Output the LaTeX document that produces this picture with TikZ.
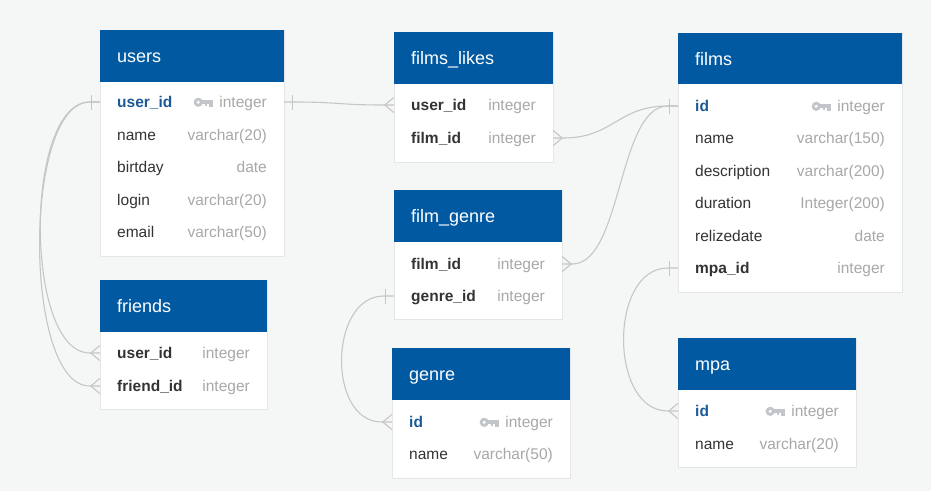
\documentclass[tikz,border=0pt]{standalone}
\usepackage{fontspec}
\setmainfont{Liberation Sans}
\usetikzlibrary{calc}
\definecolor{bg}{HTML}{F5F6F6}
\definecolor{hdr}{HTML}{0059A1}
\definecolor{pkc}{HTML}{1B5A97}
\definecolor{fld}{HTML}{333333}
\definecolor{typ}{HTML}{A8A8A8}
\definecolor{keyc}{HTML}{C2C5CA}
\definecolor{lnc}{HTML}{C6C6C6}
\definecolor{bord}{HTML}{E4E6E8}
\tikzset{
  bodybox/.style={fill=white, draw=bord, line width=0.5pt, inner sep=0, anchor=north west},
  hdrbox/.style={fill=hdr, draw=none, inner sep=0, anchor=north west},
  hdrtxt/.style={anchor=base west, inner sep=0, text=white, font=\fontsize{18}{18}\selectfont},
  rowbox/.style={draw=none, inner sep=0, minimum height=32pt},
  basetxt/.style={anchor=base west, inner sep=0, font=\fontsize{15.5}{16}\selectfont},
  fldtxt/.style={basetxt, text=fld},
  fktxt/.style={basetxt, text=fld, font=\fontsize{15.5}{16}\selectfont\bfseries},
  pktxt/.style={basetxt, text=pkc, font=\fontsize{15.5}{16}\selectfont\bfseries},
  typtxt/.style={basetxt, anchor=base east, text=typ},
  rel/.style={draw=lnc, line width=1.1pt},
  pkkey/.pic={
    \fill[keyc] (-21pt,0pt) circle [radius=4.6pt];
    \fill[white] (-21pt,0pt) circle [radius=1.7pt];
    \fill[keyc] (-18pt,-1.9pt) rectangle (-6pt,1.9pt);
    \fill[keyc] (-10pt,-1.9pt) rectangle (-6.5pt,-4.3pt);
    \fill[keyc] (-14.5pt,-1.9pt) rectangle (-12pt,-3.8pt);
  }
}
% table: id, x, top, width, height, title
\newcommand\ertab[6]{%
  \node[bodybox, minimum width=#4pt, minimum height=#5pt] (#1) at (#2,#3) {};
  \node[hdrbox, minimum width=#4pt, minimum height=51.5pt] (#1-h) at (#2,#3) {};
  \node[hdrtxt] (#1-t) at ({#2+17},{#3+32.5}) {#6};
}
% row: id, x, width, ycenter, style, field, type
\newcommand\errow[7]{%
  \node[rowbox, minimum width=#3pt] (#1) at ({#2+#3/2},#4) {};
  \node[#5] (#1-f) at ({#2+17},{#4+5.6}) {#6};
  \node[typtxt] (#1-y) at ({#2+#3-17},{#4+5.6}) {#7};
}
\newcommand\erkey[1]{\pic at ([yshift=5.3pt]#1-y.base west) {pkkey};}
% crow's foot: row node, side (west/east), direction sign (-1 for west, 1 for east)
\newcommand\crow[3]{%
  \draw[rel] ([xshift=#3*9pt]#1.#2) -- ([yshift=7.5pt]#1.#2);
  \draw[rel] ([xshift=#3*9pt]#1.#2) -- ([yshift=-7.5pt]#1.#2);
}
\newcommand\onebar[3]{%
  \draw[rel] ([xshift=#3*8pt,yshift=7.5pt]#1.#2) -- ([xshift=#3*8pt,yshift=-7.5pt]#1.#2);
}
\begin{document}
\begin{tikzpicture}[x=1pt,y=-1pt]
\useasboundingbox (0,0) rectangle (931,491);
\fill[bg] (0,0) rectangle (931,491);

% users
\ertab{users}{100}{30}{184}{226}{users}
\errow{users-uid}{100}{184}{102}{pktxt}{user\_id}{integer}
\erkey{users-uid}
\errow{users-name}{100}{184}{134.5}{fldtxt}{name}{varchar(20)}
\errow{users-bd}{100}{184}{167}{fldtxt}{birtday}{date}
\errow{users-login}{100}{184}{199.5}{fldtxt}{login}{varchar(20)}
\errow{users-email}{100}{184}{232}{fldtxt}{email}{varchar(50)}

% friends
\ertab{friends}{100}{280}{167}{129}{friends}
\errow{friends-uid}{100}{167}{353}{fktxt}{user\_id}{integer}
\errow{friends-fid}{100}{167}{386}{fktxt}{friend\_id}{integer}

% films_likes
\ertab{fl}{394}{32}{159}{130}{films\_likes}
\errow{fl-uid}{394}{159}{105}{fktxt}{user\_id}{integer}
\errow{fl-fid}{394}{159}{138}{fktxt}{film\_id}{integer}

% film_genre
\ertab{fg}{394}{190}{168}{129}{film\_genre}
\errow{fg-fid}{394}{168}{264}{fktxt}{film\_id}{integer}
\errow{fg-gid}{394}{168}{296}{fktxt}{genre\_id}{integer}

% genre
\ertab{genre}{392}{348}{178}{130}{genre}
\errow{genre-id}{392}{178}{422}{pktxt}{id}{integer}
\erkey{genre-id}
\errow{genre-name}{392}{178}{454}{fldtxt}{name}{varchar(50)}

% films
\ertab{films}{678}{32.5}{224}{259}{films}
\errow{films-id}{678}{224}{106}{pktxt}{id}{integer}
\erkey{films-id}
\errow{films-name}{678}{224}{138}{fldtxt}{name}{varchar(150)}
\errow{films-desc}{678}{224}{171}{fldtxt}{description}{varchar(200)}
\errow{films-dur}{678}{224}{203}{fldtxt}{duration}{Integer(200)}
\errow{films-rel}{678}{224}{236}{fldtxt}{relizedate}{date}
\errow{films-mpa}{678}{224}{268}{fktxt}{mpa\_id}{integer}

% mpa
\ertab{mpa}{678}{338}{178}{129}{mpa}
\errow{mpa-id}{678}{178}{411}{pktxt}{id}{integer}
\erkey{mpa-id}
\errow{mpa-name}{678}{178}{444}{fldtxt}{name}{varchar(20)}

% connectors
\draw[rel] (users-uid.west) -- ++(-10,0) .. controls +(-66,0) and +(-66,0) .. ($(friends-uid.west)+(-10,0)$) -- (friends-uid.west);
\draw[rel] (users-uid.west) -- ++(-10,0) .. controls +(-67,0) and +(-67,0) .. ($(friends-fid.west)+(-10,0)$) -- (friends-fid.west);
\draw[rel] (users-uid.east) -- ++(10,0) .. controls +(45,0) and +(-45,0) .. ($(fl-uid.west)+(-10,0)$) -- (fl-uid.west);
\draw[rel] (fl-fid.east) -- ++(10,0) .. controls +(50,0) and +(-50,0) .. ($(films-id.west)+(-10,0)$) -- (films-id.west);
\draw[rel] (fg-fid.east) -- ++(10,0) .. controls +(50,0) and +(-50,0) .. ($(films-id.west)+(-10,0)$) -- (films-id.west);
\draw[rel] (fg-gid.west) -- ++(-10,0) .. controls +(-55,0) and +(-55,0) .. ($(genre-id.west)+(-10,0)$) -- (genre-id.west);
\draw[rel] (films-mpa.west) -- ++(-10,0) .. controls +(-59,0) and +(-59,0) .. ($(mpa-id.west)+(-10,0)$) -- (mpa-id.west);

% relation end markers
\onebar{users-uid}{west}{-1}
\crow{friends-uid}{west}{-1}
\crow{friends-fid}{west}{-1}
\onebar{users-uid}{east}{1}
\crow{fl-uid}{west}{-1}
\crow{fl-fid}{east}{1}
\onebar{films-id}{west}{-1}
\crow{fg-fid}{east}{1}
\onebar{fg-gid}{west}{-1}
\crow{genre-id}{west}{-1}
\onebar{films-mpa}{west}{-1}
\crow{mpa-id}{west}{-1}
\end{tikzpicture}
\end{document}
